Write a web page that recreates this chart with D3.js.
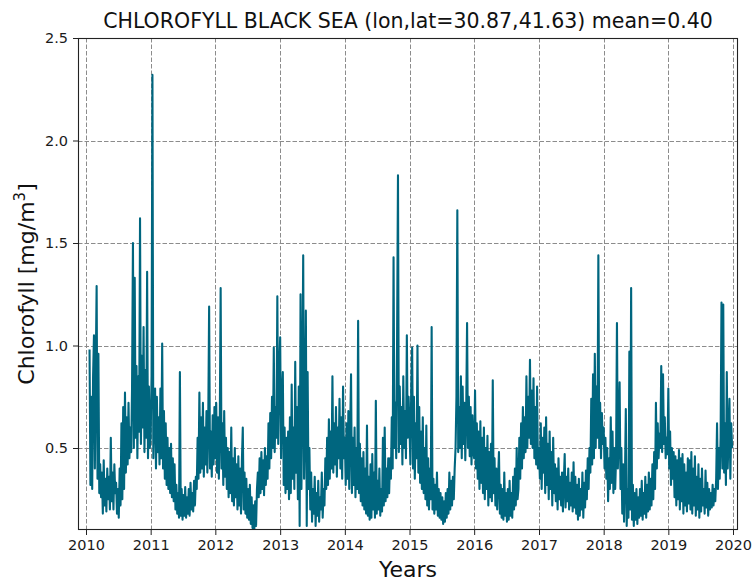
<!DOCTYPE html>
<html>
<head>
<meta charset="utf-8">
<script src="https://cdn.jsdelivr.net/npm/d3@7"></script>
<style>
  html, body { margin: 0; padding: 0; background: #fff; }
  text { font-family: "DejaVu Sans", sans-serif; }
</style>
</head>
<body>
<svg id="chart" width="753" height="581"></svg>
<script>
// ---- data: chlorophyll values sampled every 5 days within each year ----
const stepDays = 5;
const firstIndex2010 = 4;
const chl2010 = [0.98,0.32,0.75,0.30, 0.85,1.05,0.40,0.88,1.29,0.35,0.96, 0.28,0.42,0.26,0.38,0.18,0.44,0.22,0.35,0.19,0.40,0.25,0.36,0.20,0.55,0.24,0.38,0.20,0.42,0.28,0.33,0.18,0.30,0.16,0.40,0.22, 0.62,0.25,0.70,0.30,0.77,0.38,0.65,0.42,0.72,0.45,0.60,0.48, 0.80,1.50,0.50,1.33,0.55,0.90,0.45,0.85,0.58,1.62,0.52,0.95,0.60,1.09,0.48,0.88,0.55,1.36,0.45,0.80,0.50];
const chl2011 = [0.55,0.85,2.32,0.45,0.70,0.79,0.40,0.75,0.48,0.65,0.42,0.79,0.45,1.01,0.40,0.68, 0.35,0.62,0.32,0.55,0.30,0.50,0.28,0.52,0.26,0.45,0.24,0.42, 0.20,0.32,0.18,0.28,0.16,0.87,0.17,0.30,0.15,0.27,0.17,0.31,0.16,0.26,0.18,0.30,0.17,0.33,0.20,0.28,0.19,0.34,0.22,0.36, 0.30,0.55,0.35,0.77,0.38,0.65,0.40,0.72,0.36,0.60,0.42,0.68,0.38,0.62,1.19,0.40,0.58,0.36,0.66,0.42,0.70];
const chl2012 = [0.45,0.72,0.38,0.65,0.35,0.60,1.28,0.40,0.62,0.32,0.68,0.36, 0.55,0.30,0.50,0.26,0.48,0.28,0.60,0.24,0.45,0.22,0.50,0.26,0.42,0.20,0.46,0.22,0.40,0.18,0.44,0.60,0.20,0.38, 0.18,0.35,0.16,0.30,0.15,0.32,0.13,0.26,0.11,0.22,0.10,0.24,0.12,0.30, 0.38,0.26,0.45,0.28,0.48,0.30,0.44,0.27,0.50,0.32,0.46, 0.35,0.62,0.40,0.67,0.45,0.75,0.50,0.99,0.48,0.70,0.55,1.24,0.52,0.85];
const chl2013 = [1.04,0.45,0.75,0.87,0.32,0.60,0.28,0.55, 0.30,0.58,0.25,0.65,0.28,0.81,0.35,0.60,0.30,0.92,0.38, 0.70,0.25,0.80,0.12,1.25,0.30,0.75,1.44,0.35,0.62,1.17,0.12,0.87,0.30,0.50, 0.20,0.38,0.14,0.30,0.18,0.36,0.12,0.28,0.17,0.34,0.14,0.26,0.20,0.38,0.16,0.30,0.22,0.45, 0.30,0.55,0.32,0.64,0.35,0.58,0.40,0.85,0.38,0.62,0.42,0.70,0.36,0.60,0.45,0.74,0.40,0.65,0.35,0.80,0.45];
const chl2014 = [0.55,0.32,0.62,0.35,0.68,0.30,0.58,0.86,0.28,0.55,0.32,0.60,0.26,0.50,0.30,1.12,0.28,0.52,0.24,0.45,0.22,0.48, 0.20,0.40,0.18,0.61,0.17,0.36,0.15,0.42,0.16,0.47,0.20,0.38,0.16,0.73,0.18,0.34,0.20,0.40,0.17,0.30,0.19,0.55,0.22,0.60,0.24,0.40,0.26,0.45,0.28, 0.45,0.35,0.65,0.40,1.43,0.50,0.72,0.45,1.04,1.83,0.48,0.80,0.52,0.70,0.42,0.85,0.50,0.68,0.45,1.05,0.55,0.75];
const chl2015 = [0.60,0.42,0.80,0.99,0.40,0.75,0.35,0.62,0.45,1.00,0.38,0.70,0.33,0.58,0.30,0.65,0.28,0.50,0.25,0.61,0.22,0.45,0.20,0.40,0.25,1.09, 0.20,0.35,0.18,0.32,0.20,0.38,0.17,0.30,0.16,0.28,0.15,0.26,0.13,0.24,0.14,0.28,0.16,0.30,0.18,0.38,0.20,0.34,0.22,0.36,0.25,0.40, 0.50,0.75,1.66,0.48,0.70,0.50,0.85,0.45,0.80,0.52,0.72,0.44,0.68,1.11,0.50,0.75,0.46,0.70,0.42,0.66,0.48];
const chl2016 = [0.45,0.78,0.40,0.62,0.35,0.58,0.30,0.63,0.33,0.55,0.28,0.60,0.25,0.50,0.30,0.56,0.22,0.48,0.26,0.52,0.24,0.83,0.28,0.45,0.22, 0.40,0.20,0.35,0.48,0.18,0.32,0.16,0.30,0.15,0.38,0.17,0.28,0.14,0.30,0.15,0.34,0.17,0.28,0.16,0.36,0.20,0.40,0.22,0.50,0.25, 0.30,0.55,0.35,0.62,0.40,0.70,0.45,0.65,0.48,0.85,0.50,0.75,0.55,0.93,0.52,0.78,0.50,0.84,0.45,0.70,0.42,0.80,0.40];
const chl2017 = [0.50,0.35,0.62,0.30,0.55,0.38,0.60,0.28,0.65,0.32,0.52,0.25,0.58,0.30,0.48,0.22,0.55,0.28, 0.42,0.24,0.40,0.20,0.45,0.25,0.36,0.22,0.38,0.19,0.34,0.47,0.21,0.36,0.24,0.40,0.20,0.33,0.22,0.38,0.19,0.43,0.21, 0.36,0.18,0.32,0.15,0.35,0.17,0.30,0.20,0.38,0.16,0.33,0.21,0.39,0.25,0.45,0.30, 0.50,0.38,0.74,0.42,0.86,0.45,0.96,0.50,0.80,0.55,1.44,0.50,0.72,0.45,0.67,0.52];
const chl2018 = [0.60,0.40,0.55,0.35,0.50,0.24,0.45,0.30,0.65,0.33,0.58,0.28,0.50,0.30,0.45,1.11, 0.40,0.55,0.82,0.30,0.50,0.18,0.42,0.14,0.35,0.69,0.12,0.30,0.16,0.97,0.20,1.28,0.15,0.32,0.12,0.28,0.15,0.30,0.13,0.26,0.16, 0.30,0.17,0.34,0.15,0.28,0.18,0.36,0.16,0.32,0.19,0.38,0.20,0.35,0.22,0.42,0.25,0.48,0.30, 0.72,0.40,0.62,0.45,0.57,0.50,0.90,0.48,0.86,0.52,0.65,0.45,0.55,0.47];
const chl2019 = [0.79,0.40,0.58,0.32,0.50,0.35,0.48,0.26,0.46,0.22, 0.44,0.25,0.49,0.20,0.45,0.24,0.47,0.18,0.42,0.22, 0.38,0.19,0.45,0.23,0.44,0.20,0.48,0.18,0.40,0.22, 0.46,0.17,0.36,0.20,0.42,0.16,0.35,0.19,0.40,0.22, 0.30,0.18,0.39,0.21,0.33,0.17,0.30,0.20,0.28,0.21, 0.32,0.22,0.30,0.24,0.35,0.62,0.30,0.50,0.35,0.55, 1.21,0.40,1.20,0.38,0.62,0.32,0.87,0.40,0.55,0.74, 0.35,0.62,0.50];

const yearTicks = [2010,2011,2012,2013,2014,2015,2016,2017,2018,2019,2020];
const yTicks = [0.5, 1.0, 1.5, 2.0, 2.5];
const titleText = "CHLOROFYLL BLACK SEA (lon,lat=30.87,41.63) mean=0.40";
const xLabel = "Years";

// ---- build series ----
const yearly = [[2010, chl2010, firstIndex2010],[2011, chl2011, 0],[2012, chl2012, 0],[2013, chl2013, 0],
  [2014, chl2014, 0],[2015, chl2015, 0],[2016, chl2016, 0],[2017, chl2017, 0],[2018, chl2018, 0],[2019, chl2019, 0]];
const series = [];
yearly.forEach(([yr, vals, off]) => {
  vals.forEach((v, k) => series.push({date: new Date(yr, 0, 1 + (k + off) * stepDays), value: v}));
});

// ---- layout ----
const svg = d3.select("#chart");
const plot = {left: 78, right: 738, top: 38, bottom: 530};

const x = d3.scaleTime()
  .domain([new Date(2010, 0, 1), new Date(2020, 0, 1)])
  .range([86, 733]);
const y = d3.scaleLinear().domain([0.1, 2.5]).range([plot.bottom, plot.top]);

svg.append("defs").append("clipPath").attr("id", "clip")
  .append("rect").attr("x", plot.left).attr("y", plot.top)
  .attr("width", plot.right - plot.left).attr("height", plot.bottom - plot.top);

// grid
const grid = svg.append("g").attr("stroke", "#8c8c8c").attr("stroke-width", 1).attr("stroke-dasharray", "4.5,2");
yearTicks.forEach(t => {
  const xv = Math.round(x(new Date(t, 0, 1))) + 0.5;
  grid.append("line").attr("x1", xv).attr("x2", xv).attr("y1", plot.top).attr("y2", plot.bottom);
});
yTicks.forEach(t => {
  const yv = Math.round(y(t)) + 0.5;
  grid.append("line").attr("x1", plot.left).attr("x2", plot.right).attr("y1", yv).attr("y2", yv);
});

// line
const line = d3.line().x(d => x(d.date)).y(d => y(d.value));
svg.append("path").datum(series)
  .attr("clip-path", "url(#clip)")
  .attr("fill", "none")
  .attr("stroke", "#00667f")
  .attr("stroke-width", 2.1)
  .attr("stroke-linejoin", "round")
  .attr("d", line);

// axes
const xAxis = d3.axisBottom(x)
  .tickValues(yearTicks.map(t => new Date(t, 0, 1)))
  .tickFormat(d3.timeFormat("%Y"))
  .tickSize(5).tickPadding(5);
const gx = svg.append("g").attr("transform", `translate(0,${plot.bottom})`).call(xAxis);
gx.select(".domain").remove();
gx.selectAll("text").attr("font-size", "14.5px").attr("fill", "#1a1a1a").attr("font-family", "DejaVu Sans");
gx.selectAll("line").attr("stroke", "#222");

const yAxis = d3.axisLeft(y).tickValues(yTicks).tickFormat(d3.format(".1f")).tickSize(5).tickPadding(5);
const gy = svg.append("g").attr("transform", `translate(${plot.left},0)`).call(yAxis);
gy.select(".domain").remove();
gy.selectAll("text").attr("font-size", "14.5px").attr("fill", "#1a1a1a").attr("font-family", "DejaVu Sans");
gy.selectAll("line").attr("stroke", "#222");

// frame
svg.append("rect").attr("x", plot.left + 0.5).attr("y", plot.top + 0.5)
  .attr("width", plot.right - plot.left - 1).attr("height", plot.bottom - plot.top - 1)
  .attr("fill", "none").attr("stroke", "#222").attr("stroke-width", 1.1);

// title & labels
svg.append("text").attr("x", (plot.left + plot.right) / 2).attr("y", 28)
  .attr("text-anchor", "middle").attr("font-size", "20.5px").attr("fill", "#111")
  .text(titleText);

svg.append("text").attr("x", (plot.left + plot.right) / 2).attr("y", 577)
  .attr("text-anchor", "middle").attr("font-size", "22px").attr("fill", "#111")
  .text(xLabel);

const yl = svg.append("text")
  .attr("transform", `translate(34,${(plot.top + plot.bottom) / 2}) rotate(-90)`)
  .attr("text-anchor", "middle").attr("font-size", "22px").attr("fill", "#111");
yl.append("tspan").text("Chlorofyll [mg/m");
yl.append("tspan").attr("font-size", "15px").attr("dy", "-9").text("3");
yl.append("tspan").attr("dy", "9").text("]");
</script>
</body>
</html>
